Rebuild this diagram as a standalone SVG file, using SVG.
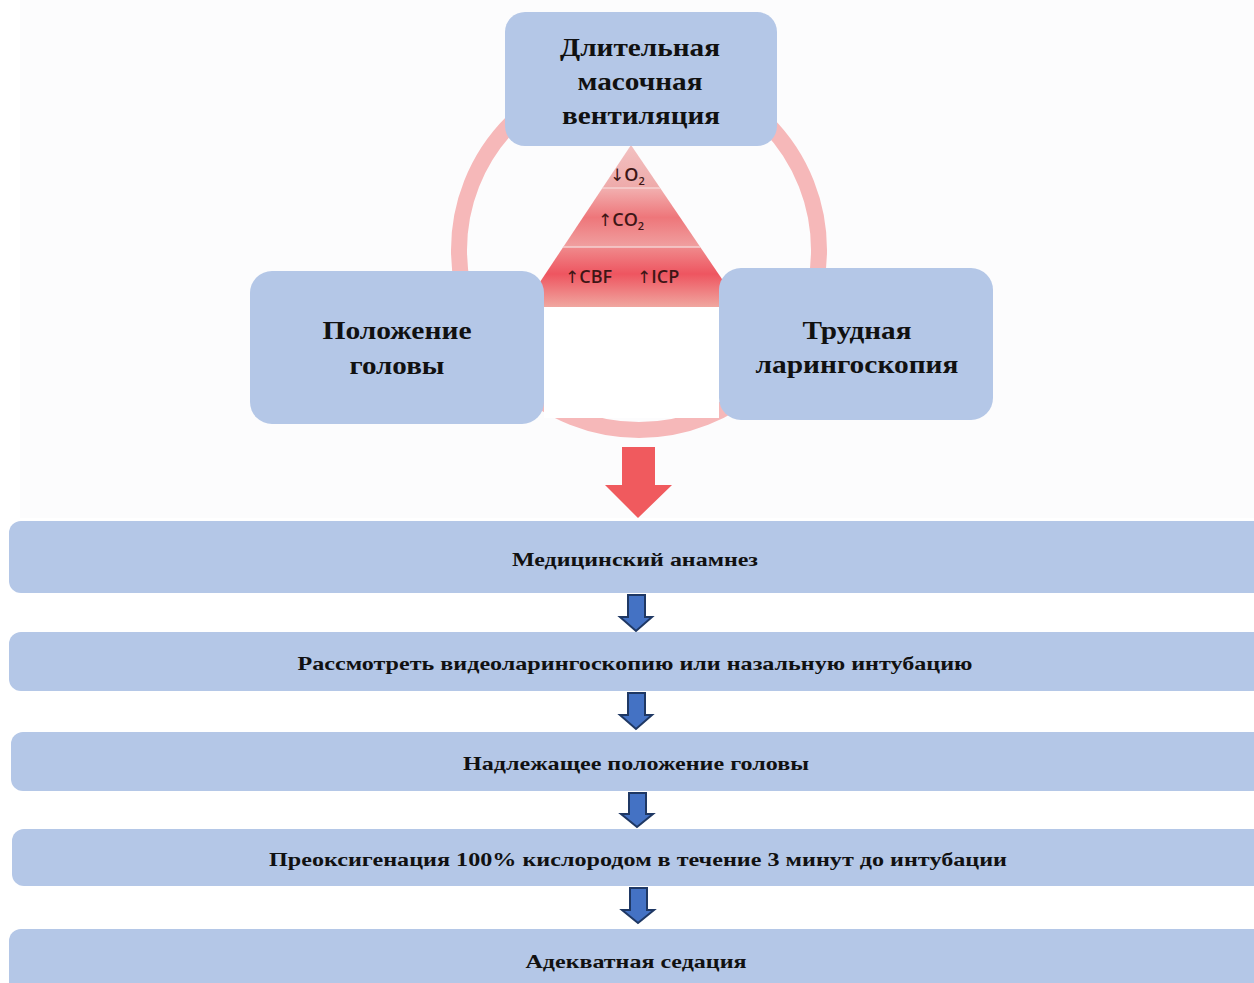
<svg xmlns="http://www.w3.org/2000/svg" width="1254" height="983" viewBox="0 0 1254 983">
<defs>
<style>
.box{fill:#b4c7e7;}
.t{font-family:"Liberation Serif","Times New Roman",serif;font-weight:bold;fill:#111;text-anchor:middle;}
.big{font-size:25px;}
.bar{font-size:19px;}
.g{font-family:"Open Sans","Liberation Sans",sans-serif;font-size:18px;font-weight:600;fill:#3d1616;}
.ar{font-family:"DejaVu Sans",sans-serif;font-size:17px;font-weight:normal;}
.sub{font-size:11px;}
.ba{fill:#4472c4;stroke:#1f3864;stroke-width:2;stroke-linejoin:miter;}
</style>
<linearGradient id="b1" x1="0" y1="0" x2="0" y2="1">
<stop offset="0" stop-color="#f3c4c4"/><stop offset="1" stop-color="#eeaaaa"/>
</linearGradient>
<linearGradient id="b2" x1="0" y1="0" x2="0" y2="1">
<stop offset="0" stop-color="#f2b0b0"/><stop offset="0.5" stop-color="#ee767a"/><stop offset="1" stop-color="#f0a0a0"/>
</linearGradient>
<linearGradient id="b3" x1="0" y1="0" x2="0" y2="1">
<stop offset="0" stop-color="#f08a8c"/><stop offset="0.45" stop-color="#ee5560"/><stop offset="1" stop-color="#f0a7a0"/>
</linearGradient>
<clipPath id="tri"><polygon points="631,145 540,282 540,307 724,307 724,282"/></clipPath>
</defs>
<rect x="0" y="0" width="1254" height="983" fill="#ffffff"/>
<rect x="20" y="0" width="1234" height="518" fill="#fcfcfd"/>
<g id="ring">
<circle cx="639" cy="250" r="180" fill="none" stroke="#f6b8b9" stroke-width="16"/>
</g>
<g id="pyramid">
<g clip-path="url(#tri)">
<rect x="530" y="140" width="200" height="48" fill="url(#b1)"/>
<rect x="530" y="188" width="200" height="59" fill="url(#b2)"/>
<rect x="530" y="247" width="200" height="60" fill="url(#b3)"/>
<line x1="530" y1="188" x2="730" y2="188" stroke="#f4d0d0" stroke-width="1.5"/>
<line x1="530" y1="247" x2="730" y2="247" stroke="#f4d0d0" stroke-width="1.5"/>
</g>
<rect x="544" y="307" width="175" height="111" fill="#ffffff"/>
<text class="g" x="610" y="181"><tspan class="ar">↓</tspan>O<tspan class="sub" dy="4">2</tspan></text>
<text class="g" x="598" y="226"><tspan class="ar">↑</tspan>CO<tspan class="sub" dy="4">2</tspan></text>
<text class="g" x="565" y="283"><tspan class="ar">↑</tspan>CBF</text>
<text class="g" x="637" y="283"><tspan class="ar">↑</tspan>ICP</text>
</g>
<g id="node-top">
<rect class="box" x="505" y="12" width="272" height="134" rx="20"/>
<text class="t big" x="640" y="56" textLength="160" lengthAdjust="spacingAndGlyphs">Длительная</text>
<text class="t big" x="640" y="90" textLength="125" lengthAdjust="spacingAndGlyphs">масочная</text>
<text class="t big" x="641" y="124" textLength="158" lengthAdjust="spacingAndGlyphs">вентиляция</text>
</g>
<g id="node-left">
<rect class="box" x="250" y="271" width="294" height="153" rx="22"/>
<text class="t big" x="397" y="339" textLength="149" lengthAdjust="spacingAndGlyphs">Положение</text>
<text class="t big" x="397" y="374" textLength="95" lengthAdjust="spacingAndGlyphs">головы</text>
</g>
<g id="node-right">
<rect class="box" x="719" y="268" width="274" height="152" rx="22"/>
<text class="t big" x="857" y="339" textLength="109" lengthAdjust="spacingAndGlyphs">Трудная</text>
<text class="t big" x="857" y="373" textLength="203" lengthAdjust="spacingAndGlyphs">ларингоскопия</text>
</g>
<g id="connectors">
<polygon points="622,447 655,447 655,485 672,485 638,518 605,485 622,485" fill="#f05a5e"/>
<polygon class="ba" points="628,595 645,595 645,617 652,617 636,631 620,617 628,617"/>
<polygon class="ba" points="628,693 645,693 645,715 652,715 636,729 620,715 628,715"/>
<polygon class="ba" points="629,793 646,793 646,814 653,814 637,827 621,814 629,814"/>
<polygon class="ba" points="630,888 647,888 647,910 654,910 638,923 622,910 630,910"/>
</g>
<g id="bar1">
<rect class="box" x="9" y="521" width="1270" height="72" rx="12"/>
<text class="t bar" x="635" y="566" textLength="246" lengthAdjust="spacingAndGlyphs">Медицинский анамнез</text>
</g>
<g id="bar2">
<rect class="box" x="9" y="632" width="1270" height="59" rx="12"/>
<text class="t bar" x="635" y="670" textLength="675" lengthAdjust="spacingAndGlyphs">Рассмотреть видеоларингоскопию или назальную интубацию</text>
</g>
<g id="bar3">
<rect class="box" x="11" y="732" width="1270" height="59" rx="12"/>
<text class="t bar" x="636" y="770" textLength="346" lengthAdjust="spacingAndGlyphs">Надлежащее положение головы</text>
</g>
<g id="bar4">
<rect class="box" x="12" y="829" width="1270" height="57" rx="12"/>
<text class="t bar" x="638" y="866" textLength="738" lengthAdjust="spacingAndGlyphs">Преоксигенация 100% кислородом в течение 3 минут до интубации</text>
</g>
<g id="bar5">
<rect class="box" x="9" y="929" width="1270" height="70" rx="12"/>
<text class="t bar" x="636" y="968" textLength="221" lengthAdjust="spacingAndGlyphs">Адекватная седация</text>
</g>
</svg>
